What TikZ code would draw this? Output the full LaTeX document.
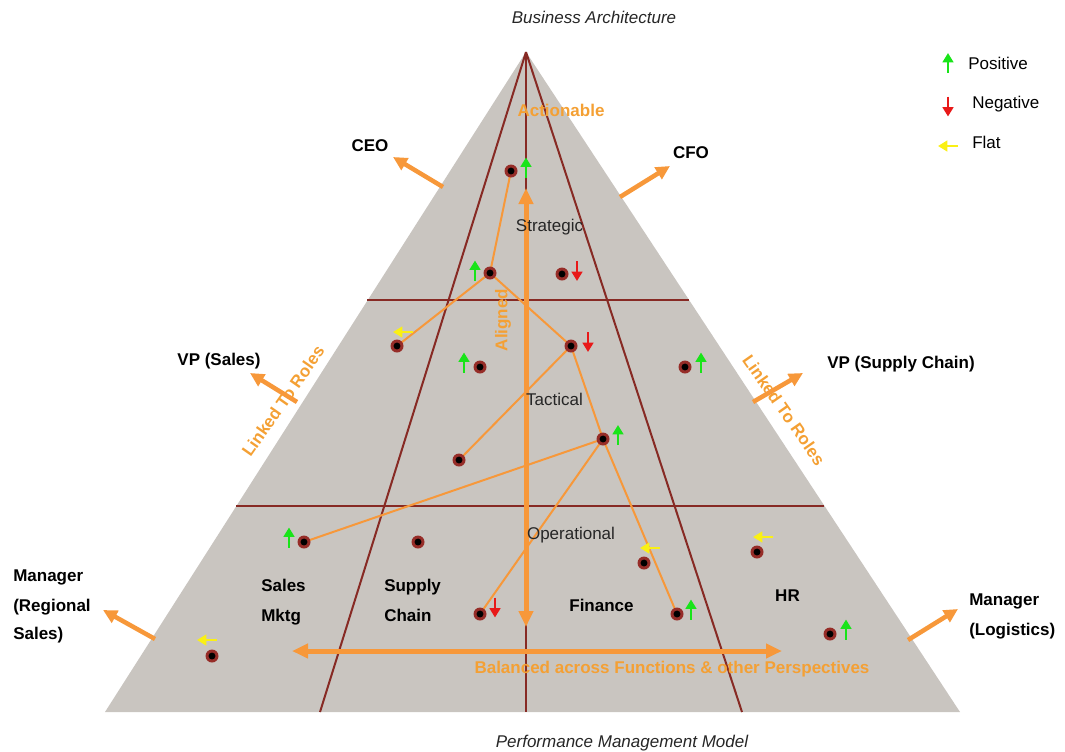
\documentclass[tikz,border=0pt]{standalone}
\usepackage{fontspec}
\setmainfont{Liberation Sans}
\usetikzlibrary{arrows.meta}

\definecolor{trifill}{RGB}{201,197,192}
\definecolor{gridred}{RGB}{135,42,36}
\definecolor{accent}{RGB}{247,152,58}
\definecolor{accenttxt}{RGB}{244,160,52}
\definecolor{upgreen}{RGB}{25,228,25}
\definecolor{downred}{RGB}{232,25,25}
\definecolor{flatyellow}{RGB}{250,240,20}
\definecolor{ringred}{RGB}{150,45,40}

\tikzset{
  lbl/.style={font=\fontsize{12.75}{15}\selectfont\bfseries, text=black, inner sep=0pt},
  lvl/.style={font=\fontsize{12.75}{15}\selectfont, text=black!85, inner sep=0pt},
  ttl/.style={font=\fontsize{12.75}{15}\selectfont\itshape, text=black!85, inner sep=0pt},
  otxt/.style={font=\fontsize{12.75}{15}\selectfont\bfseries, text=accenttxt, inner sep=0pt},
  gridline/.style={draw=gridred, line width=1.5pt},
  link/.style={draw=accent, line width=1.5pt},
  dot/.style={circle, fill=ringred, minimum size=9.75pt, inner sep=0pt,
    path picture={\fill[black] (path picture bounding box.center) circle[radius=2.6pt];}},
  role/.style={draw=accent, line width=3.4pt, -{Triangle[length=10.5pt,width=10pt]}},
  spine/.style={draw=accent, line width=3.75pt, {Triangle[length=12pt,width=10.5pt]}-{Triangle[length=12pt,width=10.5pt]}},
  ind/.style={line width=2.1pt, -{Triangle[length=7pt,width=8pt]}},
  upar/.pic={\draw[ind, upgreen] (0,10) -- (0,-10);},
  downar/.pic={\draw[ind, downred] (0,-10) -- (0,10);},
  flatar/.pic={\draw[ind, flatyellow] (10,0) -- (-10,0);}
}

\begin{document}
\begin{tikzpicture}[x=0.75pt,y=-0.75pt]
\useasboundingbox (0,0) rectangle (1065,751);

% pyramid and its grid
\fill[trifill] (526,52) -- (960,712) -- (105,712) -- cycle;
\draw[gridline] (526,52) -- (526,712);
\draw[gridline] (526,52) -- (320,712);
\draw[gridline] (526,52) -- (742,712);
\draw[gridline] (367,300) -- (689,300);
\draw[gridline] (236,506) -- (824,506);

% measure positions
\coordinate (p1) at (511,171);
\coordinate (p2) at (490,273);
\coordinate (p3) at (562,274);
\coordinate (p4) at (397,346);
\coordinate (p5) at (480,367);
\coordinate (p6) at (571,346);
\coordinate (p7) at (685,367);
\coordinate (p8) at (603,439);
\coordinate (p9) at (459,460);
\coordinate (p10) at (304,542);
\coordinate (p11) at (418,542);
\coordinate (p12) at (480,614);
\coordinate (p13) at (644,563);
\coordinate (p14) at (677,614);
\coordinate (p15) at (757,552);
\coordinate (p16) at (830,634);
\coordinate (p17) at (212,656);

% alignment links
\draw[link] (p1) -- (p2);
\draw[link] (p2) -- (p4);
\draw[link] (p2) -- (p6);
\draw[link] (p6) -- (p9);
\draw[link] (p6) -- (p8);
\draw[link] (p8) -- (p10);
\draw[link] (p8) -- (p12);
\draw[link] (p8) -- (p14);

% main axes
\coordinate (vtop) at (526,188);
\coordinate (vbot) at (526,627);
\coordinate (hleft) at (292,651);
\coordinate (hright) at (782,651);
\draw[spine] (vtop) -- (vbot);
\draw[spine] (hleft) -- (hright);

% measures
\foreach \i in {1,...,17} { \node[dot] (d\i) at (p\i) {}; }

% trend indicators
\pic at (526,167.5) {upar};
\pic at (475,270.5) {upar};
\pic at (464,362.5) {upar};
\pic at (701,362.5) {upar};
\pic at (618,435) {upar};
\pic at (289,537.5) {upar};
\pic at (691,609.5) {upar};
\pic at (846,629.5) {upar};
\pic at (577,271) {downar};
\pic at (588,342) {downar};
\pic at (495,607.5) {downar};
\pic at (403,332) {flatar};
\pic at (650,548) {flatar};
\pic at (763,537) {flatar};
\pic at (207,640) {flatar};

% legend
\pic at (948,63) {upar};
\pic at (948,106.5) {downar};
\pic at (948,146) {flatar};
\node[lvl, text=black, anchor=base west] (lgpos) at (968,69) {Positive};
\node[lvl, text=black, anchor=base west] (lgneg) at (972,108) {Negative};
\node[lvl, text=black, anchor=base west] (lgflat) at (972,148) {Flat};

% titles
\node[ttl, anchor=base] (ba) at (594,23) {Business Architecture};
\node[ttl, anchor=base] (pmm) at (622,747) {Performance Management Model};

% levels
\node[lvl, anchor=base] (strat) at (549.5,231) {Strategic};
\node[lvl, anchor=base] (tact) at (554.5,405) {Tactical};
\node[lvl, anchor=base] (oper) at (571,539) {Operational};

% functions
\node[lbl, anchor=base west] (sm1) at (261,591) {Sales};
\node[lbl, anchor=base west] (sm2) at (261,621) {Mktg};
\node[lbl, anchor=base west] (sc1) at (384,591) {Supply};
\node[lbl, anchor=base west] (sc2) at (384,621) {Chain};
\node[lbl, anchor=base] (fin) at (601.5,611) {Finance};
\node[lbl, anchor=base] (hr) at (787.5,601) {HR};

% orange annotations
\node[otxt, anchor=base] (act) at (561,116) {Actionable};
\node[otxt, rotate=90] (aln) at (503,320) {Aligned};
\node[otxt, rotate=55] (lkl) at (283,401) {Linked To Roles};
\node[otxt, rotate=-55] (lkr) at (784,410) {Linked To Roles};
\node[otxt, anchor=base] (bal) at (672,673) {Balanced across Functions \& other Perspectives};

% roles
\node[lbl, anchor=base] (ceo) at (370,151) {CEO};
\node[lbl, anchor=base] (cfo) at (691,158) {CFO};
\node[lbl, anchor=base] (vps) at (219,365) {VP (Sales)};
\node[lbl, anchor=base] (vpsc) at (901,368) {VP (Supply Chain)};
\node[lbl, anchor=base west] (mr1) at (13,581) {Manager};
\node[lbl, anchor=base west] (mr2) at (13,611) {(Regional};
\node[lbl, anchor=base west] (mr3) at (13,639) {Sales)};
\node[lbl, anchor=base west] (ml1) at (969,605) {Manager};
\node[lbl, anchor=base west] (ml2) at (969,635) {(Logistics)};

% role arrows
\coordinate (ceotail) at (443,187);  \coordinate (ceotip) at (393,157);
\coordinate (cfotail) at (620,197);  \coordinate (cfotip) at (670,166);
\coordinate (vpstail) at (297,402);  \coordinate (vpstip) at (250,373);
\coordinate (vpsctail) at (753,402); \coordinate (vpsctip) at (803,373);
\coordinate (mrtail) at (155,639);   \coordinate (mrtip) at (103,610);
\coordinate (mltail) at (908,640);   \coordinate (mltip) at (958,609);
\draw[role] (ceotail) -- (ceotip);
\draw[role] (cfotail) -- (cfotip);
\draw[role] (vpstail) -- (vpstip);
\draw[role] (vpsctail) -- (vpsctip);
\draw[role] (mrtail) -- (mrtip);
\draw[role] (mltail) -- (mltip);
\end{tikzpicture}
\end{document}
